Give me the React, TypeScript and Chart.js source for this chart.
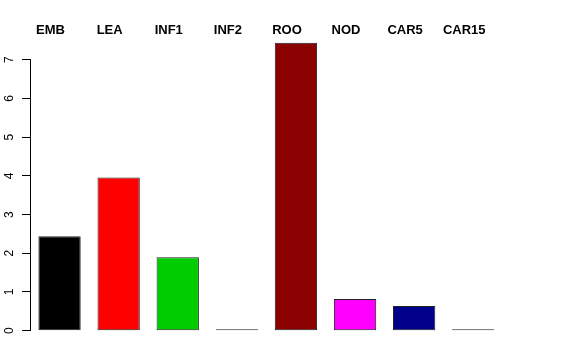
import React, { useEffect, useRef } from "react";
import { Chart, registerables } from "chart.js";

Chart.register(...registerables);

const categories = ["EMB", "LEA", "INF1", "INF2", "ROO", "NOD", "CAR5", "CAR15"];
const values = [2.44, 3.96, 1.9, 0, 7.44, 0.82, 0.64, 0];
const barColors = ["#000000", "#FF0000", "#00CD00", "#333333", "#8B0000", "#FF00FF", "#00008B", "#333333"];
const yTicks = [0, 1, 2, 3, 4, 5, 6, 7];

const yLabelPlugin = {
  id: "yLabelPlugin",
  afterDraw(chart: any) {
    const scale = chart.scales.y;
    const ctx = chart.ctx;
    ctx.save();
    ctx.fillStyle = "#000";
    ctx.font = "12px 'Liberation Sans', Arial, sans-serif";
    ctx.textAlign = "center";
    ctx.textBaseline = "middle";
    for (const v of yTicks) {
      const y = scale.getPixelForValue(v);
      ctx.save();
      ctx.translate(10, y);
      ctx.rotate(-Math.PI / 2);
      ctx.fillText(String(v), 0, 0);
      ctx.restore();
    }
    ctx.restore();
  },
};

export default function App() {
  const ref = useRef<HTMLCanvasElement | null>(null);
  useEffect(() => {
    if (!ref.current) return;
    const chart = new Chart(ref.current, {
      type: "bar",
      data: {
        labels: categories,
        datasets: [
          {
            data: values,
            backgroundColor: barColors,
            borderColor: "#222",
            borderWidth: 1,
            borderSkipped: false,
            categoryPercentage: 1,
            barPercentage: 0.716,
            minBarLength: 1.5,
            clip: false as any,
          },
        ],
      },
      options: {
        responsive: false,
        animation: false,
        events: [],
        layout: { padding: { top: 0, left: 0, right: 73.2, bottom: 29.3 } },
        plugins: { legend: { display: false }, tooltip: { enabled: false } },
        scales: {
          x: {
            position: "top",
            grid: { display: false, drawTicks: false },
            border: { display: false },
            ticks: {
              padding: 21,
              labelOffset: -9,
              color: "#000",
              font: { family: "'Liberation Sans', Arial, sans-serif", size: 13, weight: "bold" },
              autoSkip: false,
              maxRotation: 0,
            },
            afterFit: (s: any) => {
              s.height = 59.7;
            },
          },
          y: {
            min: 0,
            max: 7,
            ticks: { display: false, stepSize: 1 },
            grid: { drawOnChartArea: false, drawTicks: true, tickLength: 8, color: "#000" },
            border: { display: true, color: "#000", width: 1 },
            afterFit: (s: any) => {
              s.width = 30;
            },
          },
        },
      },
      plugins: [yLabelPlugin],
    });
    return () => chart.destroy();
  }, []);
  return (
    <div style={{ position: "fixed", left: 0, top: 0, width: 576, height: 360, background: "#fff" }}>
      <canvas ref={ref} width={576} height={360} />
    </div>
  );
}
